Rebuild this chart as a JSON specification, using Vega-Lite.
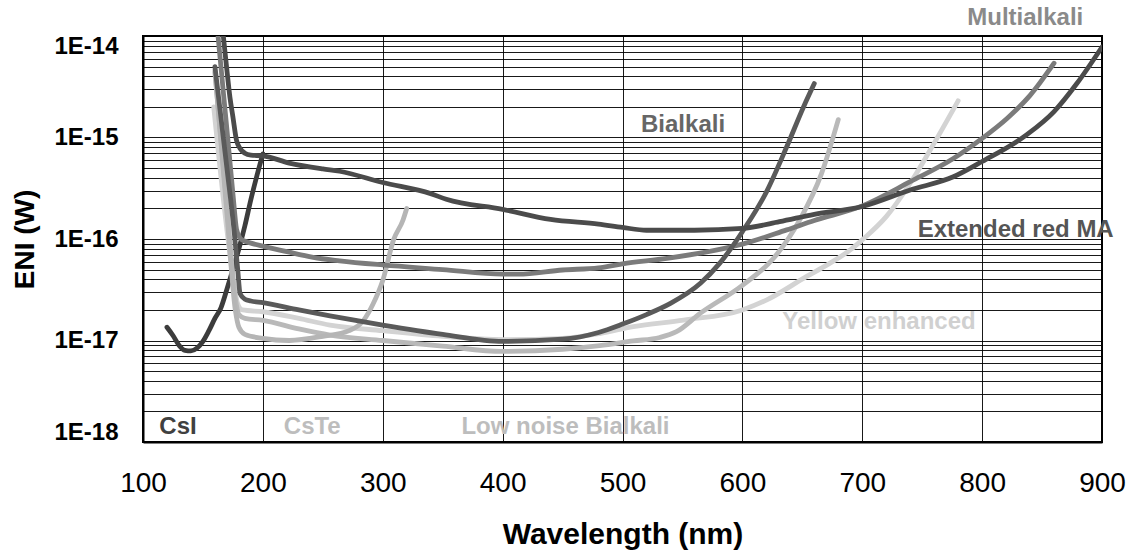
{
  "$schema": "https://vega.github.io/schema/vega-lite/v6.json",
  "width": 959,
  "height": 406,
  "autosize": {"type": "none"},
  "padding": {"left": 143, "top": 36, "right": 28, "bottom": 114},
  "background": "#ffffff",
  "config": {
    "view": {"stroke": "#000000", "strokeWidth": 2},
    "font": "Liberation Sans"
  },
  "datasets": {
    "curves": [
      {"s": "CsI", "x": 120, "y": 1.35e-17},
      {"s": "CsI", "x": 125, "y": 1.12e-17},
      {"s": "CsI", "x": 130, "y": 9.0e-18},
      {"s": "CsI", "x": 135, "y": 8.0e-18},
      {"s": "CsI", "x": 140, "y": 7.9e-18},
      {"s": "CsI", "x": 145, "y": 8.4e-18},
      {"s": "CsI", "x": 150, "y": 9.8e-18},
      {"s": "CsI", "x": 155, "y": 1.25e-17},
      {"s": "CsI", "x": 160, "y": 1.65e-17},
      {"s": "CsI", "x": 165, "y": 2.1e-17},
      {"s": "CsI", "x": 170, "y": 3.2e-17},
      {"s": "CsI", "x": 175, "y": 5.0e-17},
      {"s": "CsI", "x": 180, "y": 8.0e-17},
      {"s": "CsI", "x": 185, "y": 1.35e-16},
      {"s": "CsI", "x": 190, "y": 2.45e-16},
      {"s": "CsI", "x": 195, "y": 4.2e-16},
      {"s": "CsI", "x": 200, "y": 6.9e-16},

      {"s": "Yellow enhanced", "x": 159, "y": 2.0e-15},
      {"s": "Yellow enhanced", "x": 169, "y": 1.55e-16},
      {"s": "Yellow enhanced", "x": 176, "y": 3.5e-17},
      {"s": "Yellow enhanced", "x": 179, "y": 2.3e-17},
      {"s": "Yellow enhanced", "x": 183, "y": 2.0e-17},
      {"s": "Yellow enhanced", "x": 200, "y": 1.92e-17},
      {"s": "Yellow enhanced", "x": 230, "y": 1.65e-17},
      {"s": "Yellow enhanced", "x": 256, "y": 1.42e-17},
      {"s": "Yellow enhanced", "x": 300, "y": 1.25e-17},
      {"s": "Yellow enhanced", "x": 350, "y": 1.1e-17},
      {"s": "Yellow enhanced", "x": 400, "y": 1.02e-17},
      {"s": "Yellow enhanced", "x": 450, "y": 1.05e-17},
      {"s": "Yellow enhanced", "x": 481, "y": 1.17e-17},
      {"s": "Yellow enhanced", "x": 509, "y": 1.37e-17},
      {"s": "Yellow enhanced", "x": 551, "y": 1.59e-17},
      {"s": "Yellow enhanced", "x": 600, "y": 2.0e-17},
      {"s": "Yellow enhanced", "x": 620, "y": 2.5e-17},
      {"s": "Yellow enhanced", "x": 654, "y": 4.3e-17},
      {"s": "Yellow enhanced", "x": 670, "y": 5.5e-17},
      {"s": "Yellow enhanced", "x": 690, "y": 7.8e-17},
      {"s": "Yellow enhanced", "x": 700, "y": 9.8e-17},
      {"s": "Yellow enhanced", "x": 720, "y": 1.66e-16},
      {"s": "Yellow enhanced", "x": 740, "y": 3.54e-16},
      {"s": "Yellow enhanced", "x": 760, "y": 8.8e-16},
      {"s": "Yellow enhanced", "x": 780, "y": 2.3e-15},

      {"s": "Low noise Bialkali", "x": 160, "y": 4.4e-15},
      {"s": "Low noise Bialkali", "x": 171, "y": 1.55e-16},
      {"s": "Low noise Bialkali", "x": 177, "y": 2.6e-17},
      {"s": "Low noise Bialkali", "x": 180, "y": 1.8e-17},
      {"s": "Low noise Bialkali", "x": 185, "y": 1.65e-17},
      {"s": "Low noise Bialkali", "x": 200, "y": 1.58e-17},
      {"s": "Low noise Bialkali", "x": 230, "y": 1.3e-17},
      {"s": "Low noise Bialkali", "x": 256, "y": 1.13e-17},
      {"s": "Low noise Bialkali", "x": 300, "y": 1.0e-17},
      {"s": "Low noise Bialkali", "x": 350, "y": 8.8e-18},
      {"s": "Low noise Bialkali", "x": 400, "y": 7.8e-18},
      {"s": "Low noise Bialkali", "x": 450, "y": 8.2e-18},
      {"s": "Low noise Bialkali", "x": 481, "y": 8.9e-18},
      {"s": "Low noise Bialkali", "x": 509, "y": 9.9e-18},
      {"s": "Low noise Bialkali", "x": 531, "y": 1.07e-17},
      {"s": "Low noise Bialkali", "x": 545, "y": 1.22e-17},
      {"s": "Low noise Bialkali", "x": 565, "y": 1.86e-17},
      {"s": "Low noise Bialkali", "x": 600, "y": 3.5e-17},
      {"s": "Low noise Bialkali", "x": 626, "y": 6.45e-17},
      {"s": "Low noise Bialkali", "x": 648, "y": 1.55e-16},
      {"s": "Low noise Bialkali", "x": 666, "y": 4.4e-16},
      {"s": "Low noise Bialkali", "x": 680, "y": 1.5e-15},

      {"s": "CsTe", "x": 160, "y": 4.6e-15},
      {"s": "CsTe", "x": 170, "y": 1.8e-16},
      {"s": "CsTe", "x": 177, "y": 2.0e-17},
      {"s": "CsTe", "x": 180, "y": 1.35e-17},
      {"s": "CsTe", "x": 185, "y": 1.15e-17},
      {"s": "CsTe", "x": 200, "y": 1.05e-17},
      {"s": "CsTe", "x": 222, "y": 1.0e-17},
      {"s": "CsTe", "x": 250, "y": 1.1e-17},
      {"s": "CsTe", "x": 272, "y": 1.25e-17},
      {"s": "CsTe", "x": 284, "y": 1.58e-17},
      {"s": "CsTe", "x": 292, "y": 2.3e-17},
      {"s": "CsTe", "x": 300, "y": 3.9e-17},
      {"s": "CsTe", "x": 309, "y": 9.8e-17},
      {"s": "CsTe", "x": 317, "y": 1.55e-16},
      {"s": "CsTe", "x": 320, "y": 2.0e-16},

      {"s": "Multialkali", "x": 160, "y": 2.2e-14},
      {"s": "Multialkali", "x": 162.6, "y": 1.0e-14},
      {"s": "Multialkali", "x": 170, "y": 1.2e-15},
      {"s": "Multialkali", "x": 175, "y": 2.8e-16},
      {"s": "Multialkali", "x": 178, "y": 1.25e-16},
      {"s": "Multialkali", "x": 181, "y": 1.02e-16},
      {"s": "Multialkali", "x": 185, "y": 9.5e-17},
      {"s": "Multialkali", "x": 190, "y": 9.1e-17},
      {"s": "Multialkali", "x": 200, "y": 8.5e-17},
      {"s": "Multialkali", "x": 220, "y": 7.5e-17},
      {"s": "Multialkali", "x": 242, "y": 6.6e-17},
      {"s": "Multialkali", "x": 264, "y": 6.1e-17},
      {"s": "Multialkali", "x": 300, "y": 5.55e-17},
      {"s": "Multialkali", "x": 350, "y": 5.0e-17},
      {"s": "Multialkali", "x": 400, "y": 4.5e-17},
      {"s": "Multialkali", "x": 413, "y": 4.5e-17},
      {"s": "Multialkali", "x": 450, "y": 4.95e-17},
      {"s": "Multialkali", "x": 480, "y": 5.2e-17},
      {"s": "Multialkali", "x": 500, "y": 5.7e-17},
      {"s": "Multialkali", "x": 537, "y": 6.45e-17},
      {"s": "Multialkali", "x": 579, "y": 7.8e-17},
      {"s": "Multialkali", "x": 600, "y": 8.9e-17},
      {"s": "Multialkali", "x": 637, "y": 1.23e-16},
      {"s": "Multialkali", "x": 660, "y": 1.52e-16},
      {"s": "Multialkali", "x": 700, "y": 2.12e-16},
      {"s": "Multialkali", "x": 740, "y": 3.67e-16},
      {"s": "Multialkali", "x": 776, "y": 6.2e-16},
      {"s": "Multialkali", "x": 800, "y": 9.8e-16},
      {"s": "Multialkali", "x": 821, "y": 1.55e-15},
      {"s": "Multialkali", "x": 840, "y": 2.6e-15},
      {"s": "Multialkali", "x": 860, "y": 5.4e-15},

      {"s": "Bialkali", "x": 160, "y": 5.0e-15},
      {"s": "Bialkali", "x": 170, "y": 5.0e-16},
      {"s": "Bialkali", "x": 176, "y": 1.2e-16},
      {"s": "Bialkali", "x": 179, "y": 5.0e-17},
      {"s": "Bialkali", "x": 181, "y": 2.9e-17},
      {"s": "Bialkali", "x": 185, "y": 2.55e-17},
      {"s": "Bialkali", "x": 190, "y": 2.45e-17},
      {"s": "Bialkali", "x": 200, "y": 2.36e-17},
      {"s": "Bialkali", "x": 230, "y": 2.0e-17},
      {"s": "Bialkali", "x": 256, "y": 1.75e-17},
      {"s": "Bialkali", "x": 300, "y": 1.42e-17},
      {"s": "Bialkali", "x": 350, "y": 1.15e-17},
      {"s": "Bialkali", "x": 400, "y": 9.8e-18},
      {"s": "Bialkali", "x": 450, "y": 1.03e-17},
      {"s": "Bialkali", "x": 480, "y": 1.2e-17},
      {"s": "Bialkali", "x": 500, "y": 1.45e-17},
      {"s": "Bialkali", "x": 520, "y": 1.8e-17},
      {"s": "Bialkali", "x": 540, "y": 2.32e-17},
      {"s": "Bialkali", "x": 565, "y": 3.66e-17},
      {"s": "Bialkali", "x": 581, "y": 5.75e-17},
      {"s": "Bialkali", "x": 600, "y": 1.18e-16},
      {"s": "Bialkali", "x": 620, "y": 2.9e-16},
      {"s": "Bialkali", "x": 637, "y": 8.1e-16},
      {"s": "Bialkali", "x": 651, "y": 2.0e-15},
      {"s": "Bialkali", "x": 660, "y": 3.4e-15},

      {"s": "Extended red MA", "x": 164, "y": 2.1e-14},
      {"s": "Extended red MA", "x": 167, "y": 1.0e-14},
      {"s": "Extended red MA", "x": 170, "y": 4.6e-15},
      {"s": "Extended red MA", "x": 172.5, "y": 2.5e-15},
      {"s": "Extended red MA", "x": 175, "y": 1.6e-15},
      {"s": "Extended red MA", "x": 178, "y": 9.4e-16},
      {"s": "Extended red MA", "x": 181, "y": 7.8e-16},
      {"s": "Extended red MA", "x": 185, "y": 7.0e-16},
      {"s": "Extended red MA", "x": 190, "y": 6.7e-16},
      {"s": "Extended red MA", "x": 200, "y": 6.6e-16},
      {"s": "Extended red MA", "x": 222, "y": 5.6e-16},
      {"s": "Extended red MA", "x": 250, "y": 4.9e-16},
      {"s": "Extended red MA", "x": 264, "y": 4.65e-16},
      {"s": "Extended red MA", "x": 300, "y": 3.6e-16},
      {"s": "Extended red MA", "x": 340, "y": 2.8e-16},
      {"s": "Extended red MA", "x": 353, "y": 2.46e-16},
      {"s": "Extended red MA", "x": 400, "y": 1.96e-16},
      {"s": "Extended red MA", "x": 440, "y": 1.56e-16},
      {"s": "Extended red MA", "x": 480, "y": 1.4e-16},
      {"s": "Extended red MA", "x": 500, "y": 1.3e-16},
      {"s": "Extended red MA", "x": 520, "y": 1.22e-16},
      {"s": "Extended red MA", "x": 560, "y": 1.22e-16},
      {"s": "Extended red MA", "x": 600, "y": 1.27e-16},
      {"s": "Extended red MA", "x": 631, "y": 1.48e-16},
      {"s": "Extended red MA", "x": 660, "y": 1.75e-16},
      {"s": "Extended red MA", "x": 700, "y": 2.09e-16},
      {"s": "Extended red MA", "x": 740, "y": 3.04e-16},
      {"s": "Extended red MA", "x": 776, "y": 4.1e-16},
      {"s": "Extended red MA", "x": 800, "y": 5.8e-16},
      {"s": "Extended red MA", "x": 837, "y": 1.06e-15},
      {"s": "Extended red MA", "x": 860, "y": 1.8e-15},
      {"s": "Extended red MA", "x": 879, "y": 3.4e-15},
      {"s": "Extended red MA", "x": 900, "y": 7.8e-15}
    ],
    "labels": [
      {"label": "Multialkali", "x": 836, "y": 1.5e-14},
      {"label": "Bialkali", "x": 550.5, "y": 1.33e-15},
      {"label": "Extended red MA", "x": 828, "y": 1.24e-16},
      {"label": "Yellow enhanced", "x": 714, "y": 1.53e-17},
      {"label": "CsI", "x": 129.2, "y": 1.4e-18},
      {"label": "CsTe", "x": 241.2, "y": 1.4e-18},
      {"label": "Low noise Bialkali", "x": 452.4, "y": 1.4e-18}
    ]
  },
  "encoding": {
    "x": {
      "field": "x",
      "type": "quantitative",
      "scale": {"domain": [100, 900], "nice": false, "zero": false},
      "axis": {
        "values": [100, 200, 300, 400, 500, 600, 700, 800, 900],
        "title": "Wavelength (nm)",
        "grid": true,
        "gridColor": "#000000",
        "gridWidth": 1,
        "gridOpacity": 0.9,
        "ticks": false,
        "tickSize": 0,
        "domainColor": "#000000",
        "domainWidth": 2,
        "labelFont": "Liberation Sans",
        "labelFontSize": 28,
        "labelColor": "#000000",
        "labelPadding": 27,
        "labelFlush": false,
        "labelOverlap": false,
        "titleFont": "Liberation Sans",
        "titleFontSize": 30,
        "titleFontWeight": "bold",
        "titleColor": "#000000",
        "titlePadding": 22
      }
    },
    "y": {
      "field": "y",
      "type": "quantitative",
      "scale": {"type": "log", "domain": [1e-18, 1e-14], "nice": false},
      "axis": {
        "values": [1e-18, 2e-18, 3e-18, 4e-18, 5e-18, 6e-18, 7e-18, 8e-18, 9e-18,
                   1e-17, 2e-17, 3e-17, 4e-17, 5e-17, 6e-17, 7e-17, 8e-17, 9e-17,
                   1e-16, 2e-16, 3e-16, 4e-16, 5e-16, 6e-16, 7e-16, 8e-16, 9e-16,
                   1e-15, 2e-15, 3e-15, 4e-15, 5e-15, 6e-15, 7e-15, 8e-15, 9e-15,
                   1e-14],
        "labelExpr": "abs(log(datum.value)/LN10 - round(log(datum.value)/LN10)) < 0.001 ? '1E' + round(log(datum.value)/LN10) : ''",
        "title": "ENI (W)",
        "grid": true,
        "gridColor": "#000000",
        "gridWidth": 1,
        "gridOpacity": 0.9,
        "ticks": false,
        "tickSize": 0,
        "domainColor": "#000000",
        "domainWidth": 2,
        "labelFont": "Liberation Sans",
        "labelFontSize": 24,
        "labelFontWeight": "bold",
        "labelColor": "#000000",
        "labelPadding": 25,
        "labelFlush": true,
        "labelFlushOffset": 2,
        "labelOverlap": false,
        "titleFont": "Liberation Sans",
        "titleFontSize": 28,
        "titleFontWeight": "bold",
        "titleColor": "#000000",
        "titlePadding": 14
      }
    }
  },
  "layer": [
    {
      "data": {"name": "curves"},
      "mark": {"type": "line", "strokeWidth": 4.8, "clip": true, "interpolate": "monotone", "strokeCap": "round", "strokeJoin": "round"},
      "encoding": {
        "color": {
          "field": "s",
          "type": "nominal",
          "legend": null,
          "scale": {
            "domain": ["Yellow enhanced", "Low noise Bialkali", "CsTe", "Multialkali", "Bialkali", "CsI", "Extended red MA"],
            "range": ["#d3d3d3", "#b9b9b9", "#b5b5b5", "#7b7b7b", "#5a5a5a", "#3c3c3c", "#4b4b4b"]
          }
        }
      }
    },
    {
      "data": {"name": "labels"},
      "mark": {"type": "text", "font": "Liberation Sans", "fontSize": 24, "fontWeight": "bold", "align": "center", "baseline": "middle"},
      "encoding": {
        "text": {"field": "label", "type": "nominal"},
        "color": {
          "field": "label",
          "type": "nominal",
          "legend": null,
          "scale": {
            "domain": ["Multialkali", "Bialkali", "Extended red MA", "Yellow enhanced", "CsI", "CsTe", "Low noise Bialkali"],
            "range": ["#8a8a8a", "#666666", "#555555", "#d0d0d0", "#404040", "#bdbdbd", "#bdbdbd"]
          }
        }
      }
    }
  ],
  "resolve": {"scale": {"color": "independent"}}
}
